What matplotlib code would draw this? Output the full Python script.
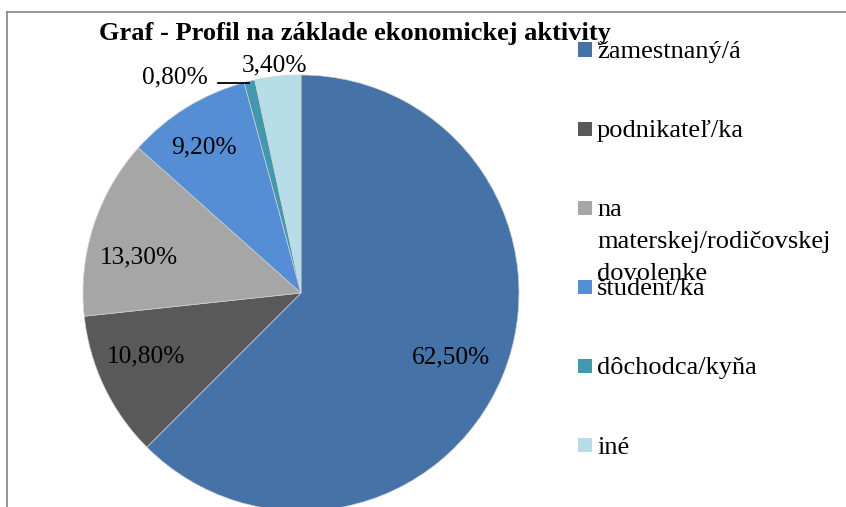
import numpy as np
import matplotlib
matplotlib.use('Agg')
import matplotlib.pyplot as plt
from matplotlib.patches import Rectangle
from matplotlib.lines import Line2D

plt.rcParams['font.family'] = ['Liberation Serif', 'DejaVu Serif']

title = 'Graf - Profil na základe ekonomickej aktivity'
categories = ['žamestnaný/á', 'podnikateľ/ka', 'na\nmaterskej/rodičovskej\ndovolenke',
              'študent/ka', 'dôchodca/kyňa', 'iné']
values = [62.5, 10.8, 13.3, 9.2, 0.8, 3.4]
colors = ['#4572A7', '#595959', '#A6A6A6', '#558ED5', '#4198AF', '#B7DDE8']

W, H = 846, 507
fig = plt.figure(figsize=(W / 100, H / 100), dpi=100)

# pie axes: centre (301, 293) px, radius 218 px
cx, cy, r = 301, 293, 218
ax = fig.add_axes([(cx - r) / W, (H - cy - r) / H, 2 * r / W, 2 * r / H])
wedges, _ = ax.pie(values, colors=colors, startangle=90, counterclock=False,
                   wedgeprops=dict(edgecolor='#d0d0d0', linewidth=0.5))
for w in wedges:
    w.set_clip_on(False)
ax.set_xlim(-1, 1)
ax.set_ylim(-1, 1)
ax.set_aspect('equal')
ax.axis('off')

# "best fit" label placement (radius, angle nudge in degrees)
lbl_r = [0.75, 0.77, 0.76, 0.80]
lbl_da = [-0.6, -3.3, 5.4, 2.0]

lbl = [f'{v:.2f}'.replace('.', ',') + '%' for v in values]
for i, w in enumerate(wedges):
    mid = (w.theta1 + w.theta2) / 2
    c, s = np.cos(np.deg2rad(mid)), np.sin(np.deg2rad(mid))
    if values[i] >= 5:
        a = np.deg2rad(mid + lbl_da[i])
        ax.text(lbl_r[i] * np.cos(a), lbl_r[i] * np.sin(a), lbl[i],
                ha='center', va='center', fontsize=18.3)
    elif i == 4:
        x0 = c - 0.144
        ax.plot([c, x0], [s - 0.009, s - 0.009], color='black', lw=1.3, clip_on=False)
        ax.text(x0 - 0.045, s - 0.009, lbl[i], ha='right', va='baseline', fontsize=18.3)
    else:
        ax.text(1.03 * c - 0.01, 1.02 * s, lbl[i], ha='center', va='baseline', fontsize=18.3)

fig.text(354.5 / W, 1 - 40 / H, title, ha='center', va='baseline',
         fontsize=19, fontweight='bold')

# legend entries (long label wraps onto three lines, like the original)
for i, (name, col) in enumerate(zip(categories, colors)):
    yc = 49.5 + 79.1 * i
    fig.patches.append(Rectangle((578 / W, 1 - (yc + 7) / H), 14 / W, 14 / H,
                                 transform=fig.transFigure, facecolor=col,
                                 edgecolor='none'))
    for j, line in enumerate(name.split('\n')):
        fig.text(597 / W, 1 - (yc + 8.5 + 32 * j) / H, line, ha='left', va='baseline',
                 fontsize=19)

# chart frame (partly outside the picture)
fig.add_artist(Line2D([7 / W, 7 / W], [0, 1 - 12 / H], transform=fig.transFigure,
                      color='#8c8c8c', lw=1.3))
fig.add_artist(Line2D([7 / W, 1], [1 - 12 / H, 1 - 12 / H], transform=fig.transFigure,
                      color='#8c8c8c', lw=1.3))

fig.savefig('out.png', dpi=100)
